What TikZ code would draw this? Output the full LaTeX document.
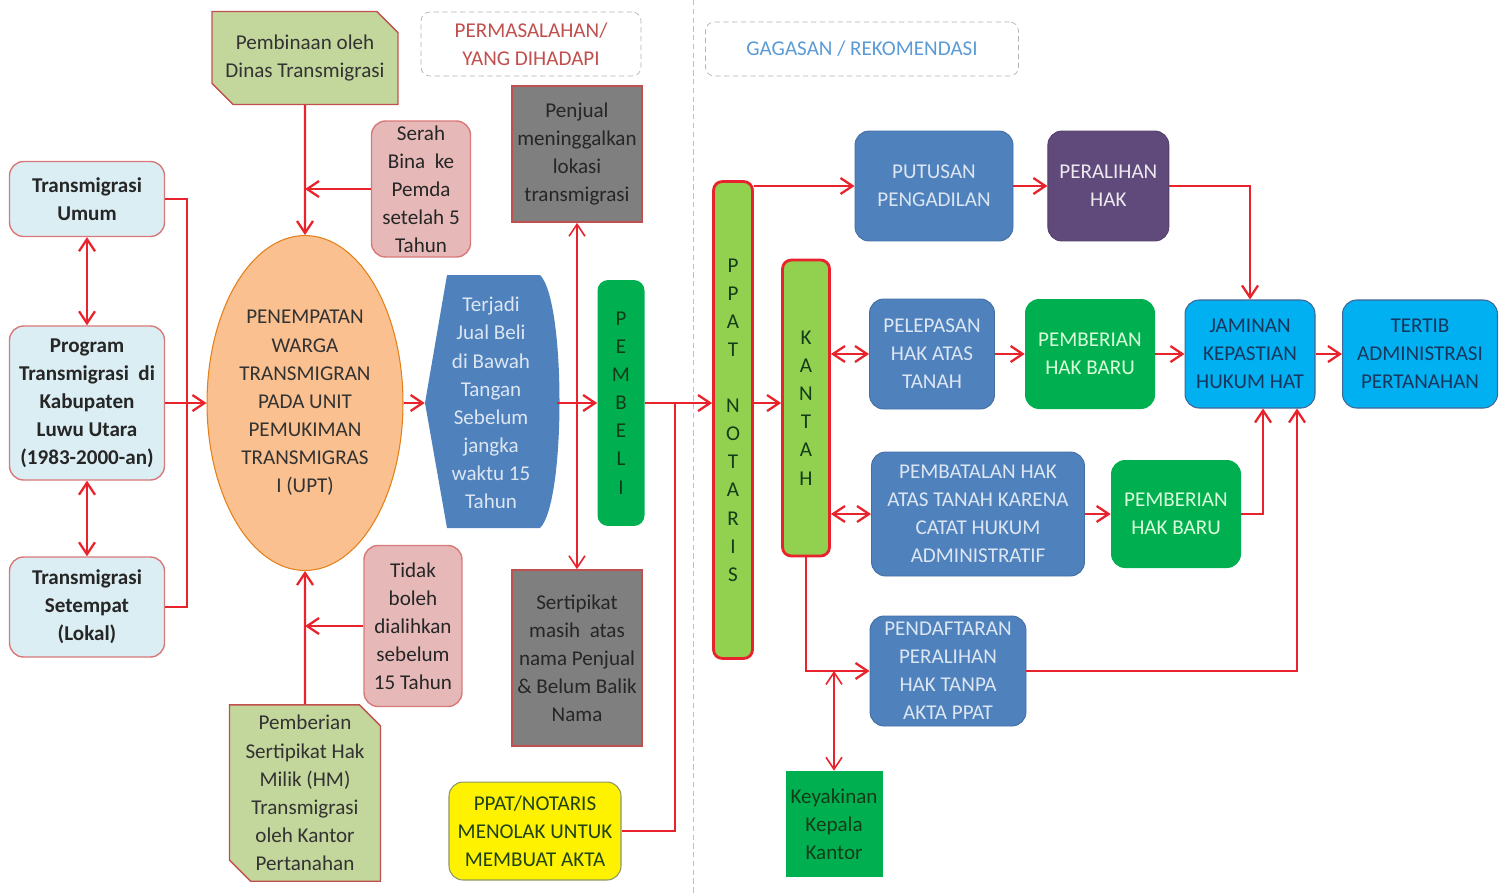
\documentclass[tikz,border=0pt]{standalone}
\usepackage{fontspec}
\setmainfont{Carlito}
\usetikzlibrary{arrows.meta,positioning,calc,shapes.geometric,shapes.misc}

\definecolor{linered}{RGB}{232,35,43}
\definecolor{olivefill}{RGB}{195,214,155}
\definecolor{brownline}{RGB}{192,80,77}
\definecolor{pinkfill}{RGB}{230,185,184}
\definecolor{pinkline}{RGB}{217,120,120}
\definecolor{orangefill}{RGB}{250,192,144}
\definecolor{paleblue}{RGB}{219,238,244}
\definecolor{boxblue}{RGB}{79,129,189}
\definecolor{paletext}{RGB}{220,230,242}
\definecolor{darkgray}{RGB}{127,127,127}
\definecolor{boxgreen}{RGB}{0,176,80}
\definecolor{limegreen}{RGB}{146,208,80}
\definecolor{boxpurple}{RGB}{96,74,123}
\definecolor{boxcyan}{RGB}{0,176,240}
\definecolor{navytext}{RGB}{23,55,94}
\definecolor{deepgreen}{RGB}{20,60,25}
\definecolor{headred}{RGB}{192,80,77}
\definecolor{headblue}{RGB}{91,155,213}

\tikzset{x=0.02cm, y=-0.02cm, % one unit is one pixel of the sketch, y grows downwards
        >={Straight Barb[length=2.4mm,width=3.2mm]}, % open barbs on every arrow
        every node/.style={align=center, inner sep=0pt,
            font=\fontsize{12}{16}\selectfont},
        link/.style={draw=linered, line width=1.3pt}, % red connectors
        thinlink/.style={draw=linered, line width=0.9pt},
        every edge/.style={link, ->}, % straight arrows between nodes
        header/.style={draw=gray!60, densely dashed, rounded corners=5pt},
        snipbox/.style={chamfered rectangle, % green note with two cut corners
            chamfered rectangle corners={north east,south west},
            chamfered rectangle xsep=6pt, chamfered rectangle ysep=6pt,
            fill=olivefill, draw=brownline, line width=0.8pt, text=black!80},
        notebox/.style={rectangle, rounded corners=8pt, fill=pinkfill,
            draw=pinkline, line width=0.8pt, text=black!85},
        leftbox/.style={rectangle, rounded corners=8pt, fill=paleblue,
            draw=pinkline, line width=0.8pt, minimum width=3.1cm,
            font=\fontsize{12}{16}\selectfont\bfseries, text=black!85},
        graybox/.style={rectangle, fill=darkgray, draw=brownline,
            line width=1pt, text=black!85},
        barbox/.style={rectangle, rounded corners=5pt, fill=limegreen,
            draw=linered, line width=1.6pt, text=deepgreen},
        bluebox/.style={rectangle, rounded corners=8pt, fill=boxblue,
            draw=boxblue!85!black, line width=0.5pt, text=paletext},
        greenbox/.style={rectangle, rounded corners=8pt, fill=boxgreen,
            text=green!15},
        cyanbox/.style={rectangle, rounded corners=8pt, fill=boxcyan,
            draw=boxblue!80!black, line width=0.6pt, text=navytext}
        }

\begin{document}
\begin{tikzpicture}
    \useasboundingbox (0,0) rectangle (1506,893);
    \draw[gray!50, densely dashed] (693,0) -- (693,893);

    % left half: the problem
    \node[header, minimum width=4.4cm, minimum height=1.28cm, text=headred]
                                                (masalah)  at (531,44)  {PERMASALAHAN/\\YANG DIHADAPI};
    \node[snipbox, minimum width=3.72cm, minimum height=1.86cm]
                                                (dinas)    at (305,58)  {Pembinaan oleh\\Dinas Transmigrasi};
    \node[notebox, minimum width=1.98cm, minimum height=2.72cm]
                                                (serah)    at (421,189) {Serah\\Bina\ \ ke\\Pemda\\setelah 5\\Tahun};
    \node[ellipse, minimum width=3.92cm, minimum height=6.7cm, fill=orangefill,
          draw=orange!60!brown, line width=0.6pt, text=black!80]
                                                (upt)      at (305,403) {PENEMPATAN\\WARGA\\TRANSMIGRAN\\PADA UNIT\\PEMUKIMAN\\TRANSMIGRAS\\I (UPT)};
    \node[leftbox, minimum height=1.5cm]        (umum)     at (87,199)  {Transmigrasi\\Umum};
    \node[leftbox, minimum height=3.08cm]       (program)  at (87,403)  {Program\\Transmigrasi\ \ di\\Kabupaten\\Luwu Utara\\(1983-2000-an)};
    \node[leftbox, minimum height=2cm]          (setempat) at (87,607)  {Transmigrasi\\Setempat\\(Lokal)};
    \node[notebox, minimum width=1.96cm, minimum height=3.22cm]
                                                (tidak)    at (413,626) {Tidak\\boleh\\dialihkan\\sebelum\\15 Tahun};
    \node[snipbox, minimum width=3.02cm, minimum height=3.46cm]
                                                (sertifhm) at (305,793) {Pemberian\\Sertipikat Hak\\Milik (HM)\\Transmigrasi\\oleh Kantor\\Pertanahan};

    \fill[boxblue] (447,275) -- (540,275) .. controls (566,300) and (566,503) .. (540,528)
        -- (447,528) -- (425,403) -- cycle;
    \node[minimum width=2.64cm, minimum height=5.06cm, text=paletext]
                                                (jualbeli) at (491,403) {Terjadi\\Jual Beli\\di Bawah\\Tangan\\Sebelum\\jangka\\waktu 15\\Tahun};
    \node[graybox, minimum width=2.6cm, minimum height=2.72cm]
                                                (penjual)  at (577,154) {Penjual\\meninggalkan\\lokasi\\transmigrasi};
    \node[graybox, minimum width=2.6cm, minimum height=3.52cm]
                                                (sertipikat) at (577,658) {Sertipikat\\masih\ \ atas\\nama Penjual\\\& Belum Balik\\Nama};
    \node[rectangle, rounded corners=6pt, fill=boxgreen, text=deepgreen,
          minimum width=0.94cm, minimum height=4.92cm]
                                                (pembeli)  at (621,403) {P\\E\\M\\B\\E\\L\\I};
    \node[rectangle, rounded corners=8pt, fill=yellow, draw=olivefill!70!black,
          line width=0.6pt, text=deepgreen!90!olive, minimum width=3.44cm, minimum height=1.96cm]
                                                (menolak)  at (535,831) {PPAT/NOTARIS\\MENOLAK UNTUK\\MEMBUAT AKTA};

    % right half: the proposal
    \node[header, minimum width=6.26cm, minimum height=1.08cm, text=headblue]
                                                (gagasan)  at (862,49)  {GAGASAN / REKOMENDASI};
    \node[barbox, minimum width=0.78cm, minimum height=9.54cm]
                                                (ppat)     at (733,420) {P\\P\\A\\T\\~\\N\\O\\T\\A\\R\\I\\S};
    \node[barbox, minimum width=0.94cm, minimum height=5.92cm]
                                                (kantah)   at (806,408) {K\\A\\N\\T\\A\\H};
    \node[bluebox, minimum width=3.16cm, minimum height=2.2cm]
                                                (putusan)  at (934,186) {PUTUSAN\\PENGADILAN};
    \node[bluebox, minimum width=2.42cm, minimum height=2.2cm, fill=boxpurple,
          draw=boxpurple!85!black, text=white!88!boxpurple]
                                                (peralihan) [right=0.68cm of putusan] {PERALIHAN\\HAK};
    \node[bluebox, minimum width=2.5cm, minimum height=2.2cm]
                                                (pelepasan) at (932,354) {PELEPASAN\\HAK ATAS\\TANAH};
    \node[greenbox, minimum width=2.6cm, minimum height=2.2cm]
                                                (barua)    at (1090,354) {PEMBERIAN\\HAK BARU};
    \node[cyanbox, minimum width=2.6cm, minimum height=2.16cm]
                                                (jaminan)  at (1250,354) {JAMINAN\\KEPASTIAN\\HUKUM HAT};
    \node[cyanbox, minimum width=3.1cm, minimum height=2.16cm]
                                                (tertib)   at (1420,354) {TERTIB\\ADMINISTRASI\\PERTANAHAN};
    \node[bluebox, minimum width=4.26cm, minimum height=2.48cm]
                                                (pembatalan) at (978,514) {PEMBATALAN HAK\\ATAS TANAH KARENA\\CATAT HUKUM\\ADMINISTRATIF};
    \node[greenbox, minimum width=2.6cm, minimum height=2.16cm]
                                                (barub)    at (1176,514) {PEMBERIAN\\HAK BARU};
    \node[bluebox, minimum width=3.12cm, minimum height=2.2cm]
                                                (pendaftaran) at (948,671) {PENDAFTARAN\\PERALIHAN\\HAK TANPA\\AKTA PPAT};
    \node[rectangle, fill=boxgreen, text=deepgreen, minimum width=1.94cm, minimum height=2.12cm]
                                                (keyakinan) at (834,824) {Keyakinan\\Kepala\\Kantor};

    % connectors, left half
    \coordinate (jleft) at ($(program.east)!0.52!(upt.west)$);
    \draw[link] (umum.east) -| (jleft) |- (setempat.east);
    \draw
        (umum)     edge[<->] (program)
        (program)  edge[<->] (setempat)
        (program)  edge      (upt)
        (dinas)    edge      (upt)
        (sertifhm) edge      (upt)
        (upt)      edge      (jualbeli)
        (jualbeli) edge      (pembeli);
    \draw[link,->] (serah.west) -- (serah.west -| dinas.south);
    \draw[link,->] (tidak.west) -- (tidak.west -| sertifhm.north);
    \draw[thinlink,<->] (penjual) -- (sertipikat);
    \coordinate (jmid) at ($(pembeli.east)!0.45!(pembeli.east -| ppat.west)$);
    \draw[link,->] (pembeli.east) -- (pembeli.east -| ppat.west);
    \draw[link] (menolak.east) -| (jmid);

    % connectors, right half
    \draw[link,->] (pembeli.east -| ppat.east) -- (pembeli.east -| kantah.west);
    \draw[link,->] (putusan.west -| ppat.east) -- (putusan.west);
    \draw[link,->] (peralihan.east) -| (jaminan.north);
    \draw[link,<->] (pelepasan.west -| kantah.east) -- (pelepasan.west);
    \draw[link,<->] (pembatalan.west -| kantah.east) -- (pembatalan.west);
    \draw
        (putusan)    edge (peralihan)
        (pelepasan)  edge (barua)
        (barua)      edge (jaminan)
        (jaminan)    edge (tertib)
        (pembatalan) edge (barub);
    \draw[link,->] (barub.east) -| ($(jaminan.south)+(13,0)$);
    \draw[link,->] (kantah.south) |- (pendaftaran.west);
    \draw[link,->] (pendaftaran.east) -| ($(jaminan.south)+(47,0)$);
    \draw[thinlink,<->] (keyakinan.north) -- (keyakinan.north |- pendaftaran.west);
\end{tikzpicture}
\end{document}
